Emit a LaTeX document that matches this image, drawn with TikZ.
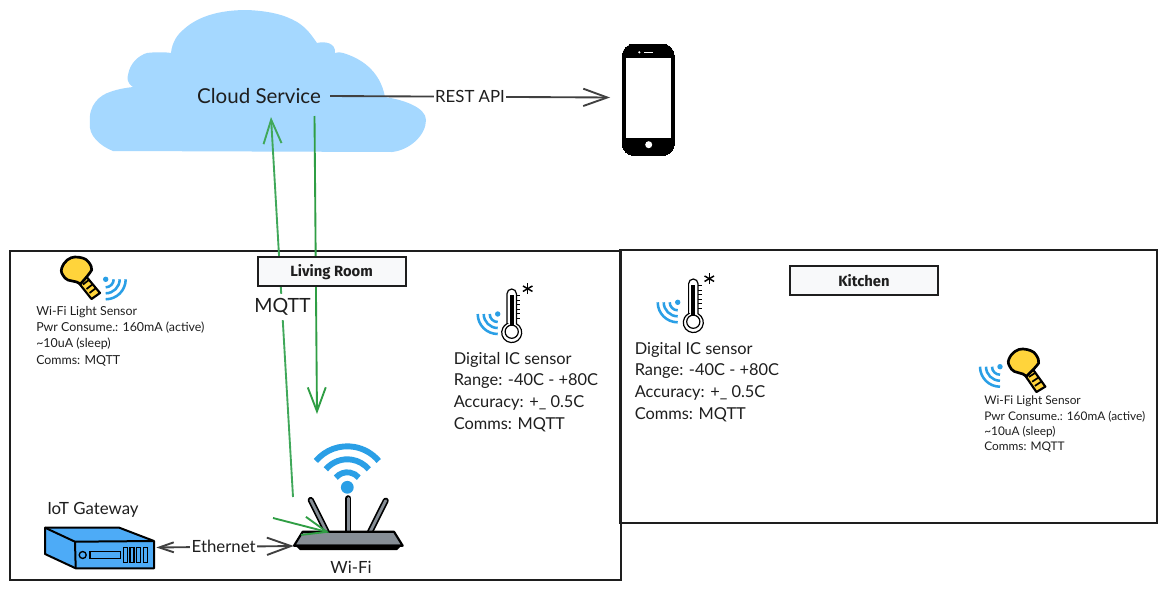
\documentclass[tikz,border=0pt]{standalone}
\usepackage{fontspec}
\setmainfont{Lato}
\newfontfamily\titlefont{Fira Sans}
\usetikzlibrary{arrows.meta}
\definecolor{ink}{HTML}{1E1E1E}
\definecolor{cloudblue}{HTML}{A5D8FF}
\definecolor{wave}{HTML}{2A9FE6}
\definecolor{gategreen}{HTML}{2F9E44}
\definecolor{lightgreen}{HTML}{40A85A}
\definecolor{boxblue}{HTML}{4DABF7}
\definecolor{routergray}{HTML}{868E96}
\definecolor{bulbyellow}{HTML}{FFD43B}
\definecolor{labelbg}{HTML}{F8F9FA}
\tikzset{
  every pic/.style={yscale=-1},
  room/.style={draw=ink,line width=1.5pt,fill=none},
  titlebox/.style={draw=ink,line width=1.5pt,fill=labelbg,minimum width=111pt,minimum height=21.5pt,inner sep=0pt,
    font=\titlefont\bfseries\fontsize{11.1}{12}\selectfont,text=ink},
  smalltext/.style={anchor=west,inner sep=0pt,align=left,text=ink,font=\fontsize{9.3}{12.2}\selectfont},
  smallertext/.style={anchor=west,inner sep=0pt,align=left,text=ink,font=\fontsize{8.9}{11.5}\selectfont},
  bigtext/.style={anchor=west,inner sep=0pt,align=left,text=ink,font=\fontsize{12.3}{16.3}\selectfont},
  plainlabel/.style={inner sep=0pt,text=ink,font=\fontsize{12.6}{14}\selectfont},
  grayarrow/.style={draw=ink!85,line width=1.4pt,-{Straight Barb[length=18pt,width=13pt,line width=1.4pt]}},
  greenarrow/.style={draw=lightgreen,line width=1.4pt,-{Straight Barb[length=18pt,width=13.5pt,line width=1.4pt]}},
  iconbox/.style={inner sep=0pt,draw=none,fill=none},
  waves/.pic={
    \fill[wave] (0,0) circle (2.7);
    \foreach \r in {8,14,20}
      \draw[wave,line width=1.9pt] (\r,0) arc[start angle=0,end angle=90,radius=\r];
  },
  thermo/.pic={
    \draw[black,line width=.9pt,fill=white] (-4.7,-8) -- (-4.7,-38) arc[start angle=180,end angle=360,radius=4.7] -- (4.7,-8) arc[start angle=-62,end angle=242,radius=10] -- cycle;
    \draw[black,line width=.9pt] (0,0) circle (6.6);
    \fill[black] (-1.9,-6) rectangle (1.9,-37);
    \foreach \y in {-36,-31.5,-27,-22.5,-18,-13.5}
      \draw[black,line width=.8pt] (4.7,\y) -- (8.5,\y);
    \foreach \a in {30,90,150}
      \draw[black,line width=1.1pt] ([shift={(\a:5.5)}]16,-43) -- ([shift={(\a+180:5.5)}]16,-43);
  },
  bulb/.pic={
    \draw[black,line width=1.6pt,fill=bulbyellow,line join=round]
      (9,5) -- (24,23) -- (15.5,29) -- (2,12) -- cycle;
    \draw[black,line width=1.3pt] (7,14.5) -- (13.5,9.5) (10.5,19) -- (17,14) (13.5,23) -- (20,18);
    \draw[black,line width=2pt,fill=bulbyellow,line join=round]
      (4.5,14) .. controls (0,10) and (-8,12) .. (-11,8)
      .. controls (-14,4) and (-15.5,2) .. (-14.3,-1.7)
      .. controls (-12,-9) and (-6,-13) .. (-1,-13)
      .. controls (5,-13) and (10,-11.5) .. (12.3,-8.3)
      .. controls (15,-5) and (16,-2) .. (15.7,0)
      .. controls (15.5,3) and (12,3) .. (11,6.5) -- cycle;
  },
}
\begin{document}
\begin{tikzpicture}[x=.75pt,y=.75pt,yscale=-1]
\useasboundingbox (0,0) rectangle (1166,589);
\fill[white] (0,0) rectangle (1166,589);
% rooms
\draw[room] (10,251) rectangle (621,580);
\draw[room] (620,250) rectangle (1157,523);
% cloud
\fill[cloudblue] (90,123)
  .. controls (88,105) and (100,95) .. (110,92)
  .. controls (118,89) and (125,88) .. (133,87)
  .. controls (127,83) and (127,78) .. (128,75)
  .. controls (130,62) and (140,55) .. (147,53)
  .. controls (155,52) and (165,52) .. (171,53)
  .. controls (172,42) and (178,34) .. (183,30)
  .. controls (200,14) and (225,10) .. (247,10)
  .. controls (270,11) and (285,15) .. (297,22)
  .. controls (307,28) and (312,36) .. (317,43)
  .. controls (325,41) and (336,43) .. (335,53)
  .. controls (338,52) and (340,52) .. (343,53)
  .. controls (360,58) and (380,70) .. (385,97)
  .. controls (405,100) and (426,108) .. (426,120)
  .. controls (426,135) and (410,150) .. (392,152)
  -- (113,151)
  .. controls (100,146) and (88,135) .. (90,123) -- cycle;
% phone
\node[iconbox,minimum width=39pt,minimum height=83.7pt,draw=black,fill=black,rounded corners=9pt,line width=0pt] (phone) at (648.3,99.8) {};
\fill[white] (625.7,58.3) rectangle (671,138.3);
\fill[white] (648.7,144.7) circle (3.5);
\fill[white] (639.3,52.3) circle (1.2);
\draw[white,line width=.9pt] (644.3,52.7) -- (653.3,52.7);
% wifi symbol
\fill[wave] (347.3,487.3) circle (6.4);
\foreach \r in {15,28,41}
  \draw[wave,line width=4.4pt] ([shift={(220:\r)}]347.3,487.3) arc[start angle=220,end angle=320,radius=\r];
% router
\foreach \xa/\ya/\xb/\yb in {310.7/500/326.7/532,348.3/498.3/348.3/532,385.7/500.7/370/532}{
  \draw[black,line width=4.6pt,line cap=round] (\xa,\ya) -- (\xb,\yb);
  \draw[routergray,line width=2.1pt,line cap=round] (\xa,\ya) -- (\xb,\yb);
}
\draw[black,line width=1.6pt,fill=routergray,line join=round] (302.7,531.7) -- (394,531.7) -- (402.7,545.7) -- (294,545.7) -- cycle;
\fill[black] (294,544.5) -- (402.7,544.5) -- (397,550) -- (300,550) -- cycle;
\node[iconbox,minimum width=81.5pt,minimum height=14pt] (router) at (348.3,546) {};
% gateway
\draw[black,line width=1.5pt,fill=boxblue,line join=round] (45,527.7) -- (119.3,527.7) -- (154,541) -- (154,568.3) -- (75.7,568.3) -- (45,554) -- cycle;
\draw[black,line width=1.5pt,line join=round] (45,527.7) -- (75,541.7) -- (75.7,568.3) (75,541.7) -- (154,541);
\draw[black,line width=1pt] (82.7,555) circle (3.5);
\draw[black,line width=1pt] (90,551.7) rectangle (120.7,558.3);
\foreach \x in {123.3,130,136.7,143.3}
  \draw[black,line width=1pt] (\x,547.3) rectangle (\x+4,562.3);
\node[iconbox,minimum width=81pt,minimum height=31pt] (gateway) at (100,547.5) {};
% sensors
\pic at (76,270) {bulb};
\pic at (105.7,279.3) {waves};
\pic[rotate=-4] at (1023,362) {bulb};
\pic[xscale=-1] at (1000,366.7) {waves};
\pic at (511.7,331.7) {thermo};
\pic[xscale=-1] at (497.7,314) {waves};
\pic at (693.3,321.7) {thermo};
\pic[xscale=-1] at (677.7,302.3) {waves};
% connector ends
\coordinate (cloudOut) at (330,96);
\coordinate (phoneIn) at (610,97.5);
\coordinate (cloudIn) at (271,117);
\coordinate (routerUp) at (293,497);
\coordinate (cloudDown) at (314.5,116);
\coordinate (routerTop) at (317,414);
\coordinate (routerFrom) at (273,518);
\coordinate (routerTo) at (329.3,532.5);
% connectors
\draw[greenarrow] (routerUp) -- (cloudIn);
\draw[greenarrow,draw=gategreen] (cloudDown) -- (routerTop);
\draw[gategreen,line width=1.4pt,-{Straight Barb[length=18pt,width=14pt,line width=1.4pt]}] (routerFrom) -- (routerTo);
\draw[grayarrow] (cloudOut) -- node[plainlabel,fill=white,inner xsep=.5pt,inner ysep=2pt,pos=.5] (rest) {REST API} (phoneIn);
\draw[draw=ink!85,line width=1.4pt,{Straight Barb[length=11pt,width=7.5pt,line width=1.4pt]}-{Straight Barb[length=18pt,width=13pt,line width=1.4pt]}] (gateway.east) ++(2,0) coordinate (gwOut) -- node[plainlabel,fill=white,inner xsep=1pt,inner ysep=2pt,pos=.49] (eth) {Ethernet} (router.west);
% labels
\node[titlebox] (living) at (331.6,271.8) {Living Room};
\node[titlebox] (kitchen) at (864,280.5) {Kitchen};
\node[inner xsep=0pt,inner ysep=3pt,fill=white,text=ink,font=\fontsize{14.7}{16}\selectfont] (mqtt) at (282.5,307) {MQTT};
\node[inner sep=0pt,text=ink,font=\fontsize{15.4}{16}\selectfont] (cloudlabel) at (259,96) {Cloud Service};
\node[plainlabel,anchor=west] (iotlabel) at (47,510) {IoT Gateway};
\node[plainlabel] (wifilabel) at (351,567) {Wi-Fi};
\node[smalltext] (ls1) at (36,336) {Wi-Fi Light Sensor\\Pwr Consume.: 160mA (active)\\\textasciitilde10uA (sleep)\\Comms: MQTT};
\node[smallertext] (ls2) at (984,424.5) {Wi-Fi Light Sensor\\Pwr Consume.: 160mA (active)\\\textasciitilde10uA (sleep)\\Comms: MQTT};
\node[bigtext] (ds1) at (453.5,392) {Digital IC sensor\\Range: -40C - +80C\\Accuracy: +\_ 0.5C\\Comms: MQTT};
\node[bigtext] (ds2) at (634.5,382) {Digital IC sensor\\Range: -40C - +80C\\Accuracy: +\_ 0.5C\\Comms: MQTT};
\end{tikzpicture}
\end{document}
